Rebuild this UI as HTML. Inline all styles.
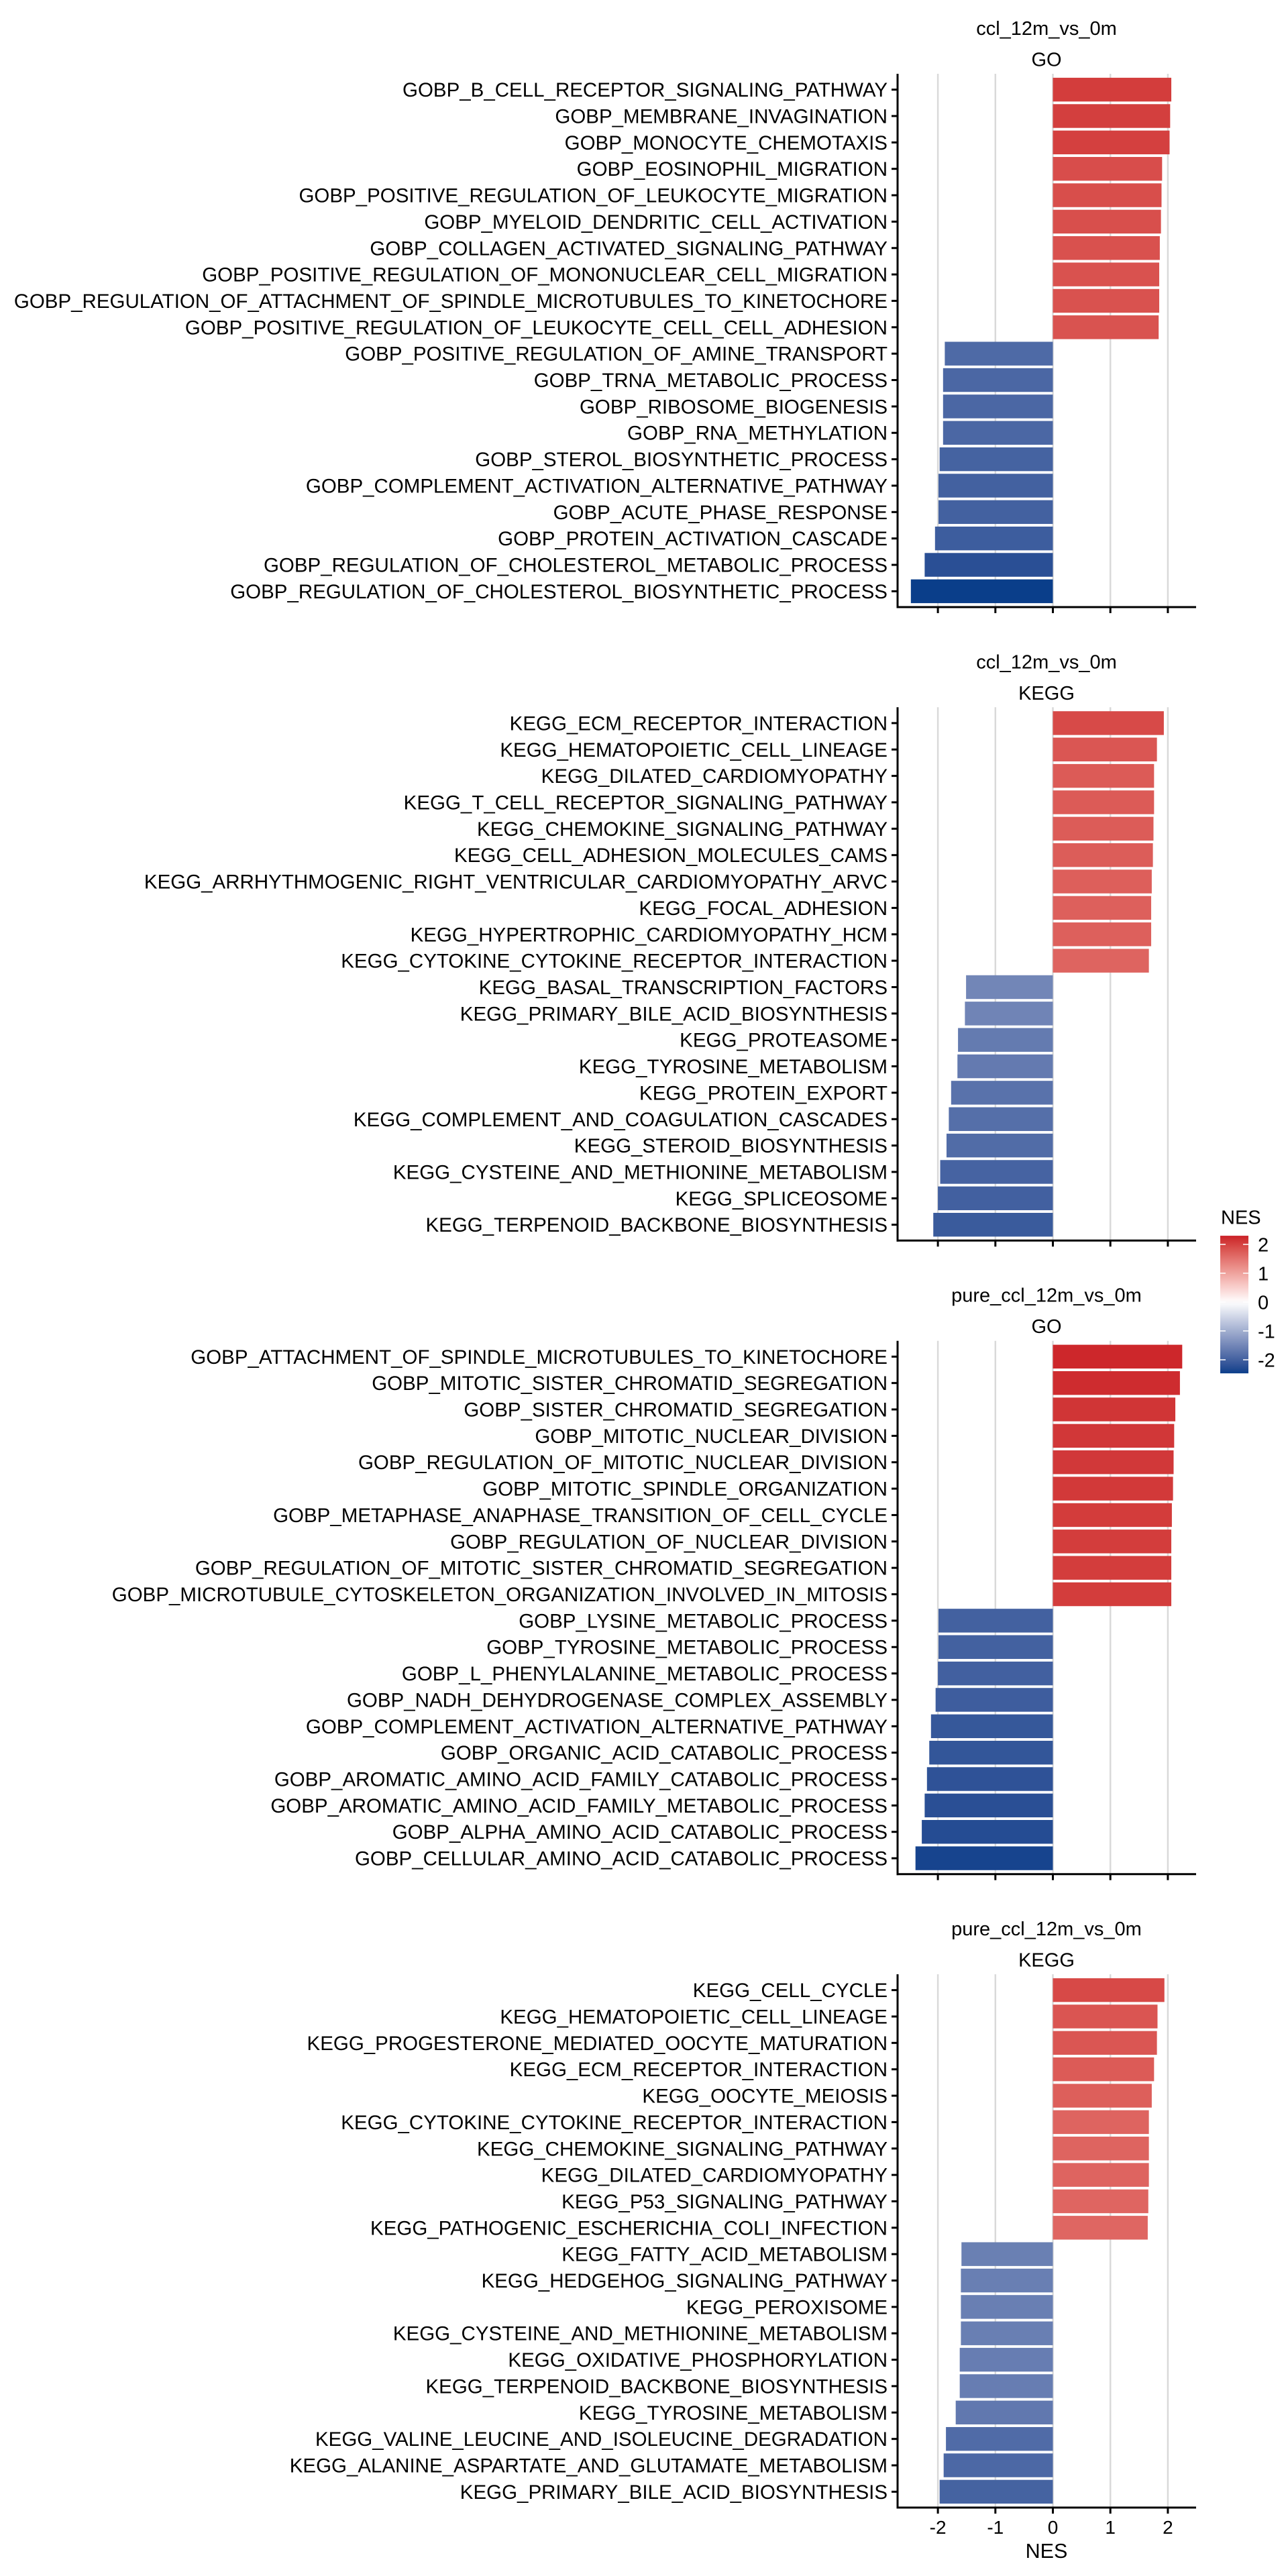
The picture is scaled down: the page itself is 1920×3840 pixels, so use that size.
<!DOCTYPE html>
<html><head><meta charset="utf-8"><style>
html,body{margin:0;padding:0;background:#fff;}
svg{display:block;font-family:"Liberation Sans",Arial,sans-serif;}
</style></head><body>
<svg id="chart" width="1920" height="3840" xmlns="http://www.w3.org/2000/svg"></svg>
<script>
const xTicks = [-2, -1, 0, 1, 2];
const legendTicks = [2, 1, 0, -1, -2];
const panelTitles = ["ccl_12m_vs_0m", "ccl_12m_vs_0m", "pure_ccl_12m_vs_0m", "pure_ccl_12m_vs_0m"];
const panelTypes = ["GO", "KEGG", "GO", "KEGG"];
const terms1 = ["GOBP_B_CELL_RECEPTOR_SIGNALING_PATHWAY","GOBP_MEMBRANE_INVAGINATION","GOBP_MONOCYTE_CHEMOTAXIS","GOBP_EOSINOPHIL_MIGRATION","GOBP_POSITIVE_REGULATION_OF_LEUKOCYTE_MIGRATION","GOBP_MYELOID_DENDRITIC_CELL_ACTIVATION","GOBP_COLLAGEN_ACTIVATED_SIGNALING_PATHWAY","GOBP_POSITIVE_REGULATION_OF_MONONUCLEAR_CELL_MIGRATION","GOBP_REGULATION_OF_ATTACHMENT_OF_SPINDLE_MICROTUBULES_TO_KINETOCHORE","GOBP_POSITIVE_REGULATION_OF_LEUKOCYTE_CELL_CELL_ADHESION","GOBP_POSITIVE_REGULATION_OF_AMINE_TRANSPORT","GOBP_TRNA_METABOLIC_PROCESS","GOBP_RIBOSOME_BIOGENESIS","GOBP_RNA_METHYLATION","GOBP_STEROL_BIOSYNTHETIC_PROCESS","GOBP_COMPLEMENT_ACTIVATION_ALTERNATIVE_PATHWAY","GOBP_ACUTE_PHASE_RESPONSE","GOBP_PROTEIN_ACTIVATION_CASCADE","GOBP_REGULATION_OF_CHOLESTEROL_METABOLIC_PROCESS","GOBP_REGULATION_OF_CHOLESTEROL_BIOSYNTHETIC_PROCESS"];
const nes1 = [2.06,2.04,2.03,1.90,1.89,1.88,1.86,1.85,1.85,1.84,-1.88,-1.91,-1.91,-1.91,-1.97,-1.99,-1.99,-2.05,-2.23,-2.47];
const terms2 = ["KEGG_ECM_RECEPTOR_INTERACTION","KEGG_HEMATOPOIETIC_CELL_LINEAGE","KEGG_DILATED_CARDIOMYOPATHY","KEGG_T_CELL_RECEPTOR_SIGNALING_PATHWAY","KEGG_CHEMOKINE_SIGNALING_PATHWAY","KEGG_CELL_ADHESION_MOLECULES_CAMS","KEGG_ARRHYTHMOGENIC_RIGHT_VENTRICULAR_CARDIOMYOPATHY_ARVC","KEGG_FOCAL_ADHESION","KEGG_HYPERTROPHIC_CARDIOMYOPATHY_HCM","KEGG_CYTOKINE_CYTOKINE_RECEPTOR_INTERACTION","KEGG_BASAL_TRANSCRIPTION_FACTORS","KEGG_PRIMARY_BILE_ACID_BIOSYNTHESIS","KEGG_PROTEASOME","KEGG_TYROSINE_METABOLISM","KEGG_PROTEIN_EXPORT","KEGG_COMPLEMENT_AND_COAGULATION_CASCADES","KEGG_STEROID_BIOSYNTHESIS","KEGG_CYSTEINE_AND_METHIONINE_METABOLISM","KEGG_SPLICEOSOME","KEGG_TERPENOID_BACKBONE_BIOSYNTHESIS"];
const nes2 = [1.93,1.81,1.76,1.76,1.75,1.74,1.72,1.71,1.71,1.67,-1.51,-1.53,-1.65,-1.66,-1.77,-1.81,-1.85,-1.96,-2.00,-2.08];
const terms3 = ["GOBP_ATTACHMENT_OF_SPINDLE_MICROTUBULES_TO_KINETOCHORE","GOBP_MITOTIC_SISTER_CHROMATID_SEGREGATION","GOBP_SISTER_CHROMATID_SEGREGATION","GOBP_MITOTIC_NUCLEAR_DIVISION","GOBP_REGULATION_OF_MITOTIC_NUCLEAR_DIVISION","GOBP_MITOTIC_SPINDLE_ORGANIZATION","GOBP_METAPHASE_ANAPHASE_TRANSITION_OF_CELL_CYCLE","GOBP_REGULATION_OF_NUCLEAR_DIVISION","GOBP_REGULATION_OF_MITOTIC_SISTER_CHROMATID_SEGREGATION","GOBP_MICROTUBULE_CYTOSKELETON_ORGANIZATION_INVOLVED_IN_MITOSIS","GOBP_LYSINE_METABOLIC_PROCESS","GOBP_TYROSINE_METABOLIC_PROCESS","GOBP_L_PHENYLALANINE_METABOLIC_PROCESS","GOBP_NADH_DEHYDROGENASE_COMPLEX_ASSEMBLY","GOBP_COMPLEMENT_ACTIVATION_ALTERNATIVE_PATHWAY","GOBP_ORGANIC_ACID_CATABOLIC_PROCESS","GOBP_AROMATIC_AMINO_ACID_FAMILY_CATABOLIC_PROCESS","GOBP_AROMATIC_AMINO_ACID_FAMILY_METABOLIC_PROCESS","GOBP_ALPHA_AMINO_ACID_CATABOLIC_PROCESS","GOBP_CELLULAR_AMINO_ACID_CATABOLIC_PROCESS"];
const nes3 = [2.25,2.21,2.13,2.11,2.10,2.09,2.07,2.06,2.06,2.06,-1.99,-1.99,-2.00,-2.04,-2.12,-2.15,-2.19,-2.23,-2.28,-2.39];
const terms4 = ["KEGG_CELL_CYCLE","KEGG_HEMATOPOIETIC_CELL_LINEAGE","KEGG_PROGESTERONE_MEDIATED_OOCYTE_MATURATION","KEGG_ECM_RECEPTOR_INTERACTION","KEGG_OOCYTE_MEIOSIS","KEGG_CYTOKINE_CYTOKINE_RECEPTOR_INTERACTION","KEGG_CHEMOKINE_SIGNALING_PATHWAY","KEGG_DILATED_CARDIOMYOPATHY","KEGG_P53_SIGNALING_PATHWAY","KEGG_PATHOGENIC_ESCHERICHIA_COLI_INFECTION","KEGG_FATTY_ACID_METABOLISM","KEGG_HEDGEHOG_SIGNALING_PATHWAY","KEGG_PEROXISOME","KEGG_CYSTEINE_AND_METHIONINE_METABOLISM","KEGG_OXIDATIVE_PHOSPHORYLATION","KEGG_TERPENOID_BACKBONE_BIOSYNTHESIS","KEGG_TYROSINE_METABOLISM","KEGG_VALINE_LEUCINE_AND_ISOLEUCINE_DEGRADATION","KEGG_ALANINE_ASPARTATE_AND_GLUTAMATE_METABOLISM","KEGG_PRIMARY_BILE_ACID_BIOSYNTHESIS"];
const nes4 = [1.94,1.82,1.81,1.76,1.72,1.67,1.67,1.67,1.66,1.65,-1.59,-1.60,-1.60,-1.60,-1.62,-1.62,-1.69,-1.86,-1.90,-1.97];

const NS = "http://www.w3.org/2000/svg";
const svg = document.getElementById('chart');
function mk(tag, attrs, parent){const e=document.createElementNS(NS,tag);for(const k in attrs)e.setAttribute(k,attrs[k]);(parent||svg).appendChild(e);return e;}

const X0 = 1569.5, UNIT = 85.7, AXL = 1338, AXR = 1783;
const xs = v => X0 + v*UNIT;
const NMAX = 2.3, NMIN = -2.47;
const HI = [203,32,39], LO = [10,62,138];

function s2l(c){c/=255;return c<=0.04045?c/12.92:Math.pow((c+0.055)/1.055,2.4);}
function l2s(c){c=c<=0.0031308?12.92*c:1.055*Math.pow(c,1/2.4)-0.055;return Math.max(0,Math.min(255,Math.round(c*255)));}
function toLab(rgb){
  const r=s2l(rgb[0]),g=s2l(rgb[1]),b=s2l(rgb[2]);
  let X=(0.4124*r+0.3576*g+0.1805*b)/0.95047,Y=0.2126*r+0.7152*g+0.0722*b,Z=(0.0193*r+0.1192*g+0.9505*b)/1.08883;
  const f=t=>t>0.008856?Math.cbrt(t):7.787*t+16/116;
  const fx=f(X),fy=f(Y),fz=f(Z);
  return [116*fy-16,500*(fx-fy),200*(fy-fz)];
}
function fromLab(l){
  const fy=(l[0]+16)/116,fx=fy+l[1]/500,fz=fy-l[2]/200;
  const fi=t=>t>0.206893?t*t*t:(t-16/116)/7.787;
  const X=fi(fx)*0.95047,Y=fi(fy),Z=fi(fz)*1.08883;
  const r=3.2406*X-1.5372*Y-0.4986*Z,g=-0.9689*X+1.8758*Y+0.0415*Z,b=0.0557*X-0.2040*Y+1.0570*Z;
  return [l2s(r),l2s(g),l2s(b)];
}
const WL = toLab([255,255,255]), HL = toLab(HI), LL = toLab(LO);
function col(v){
  let t, c, cr;
  if (v>=0){t=Math.min(v/NMAX,1);c=HL;cr=HI;} else {t=Math.min(v/NMIN,1);c=LL;cr=LO;}
  const lab=[WL[0]+(c[0]-WL[0])*t, WL[1]+(c[1]-WL[1])*t, WL[2]+(c[2]-WL[2])*t];
  const a=fromLab(lab);
  const b=[255+(cr[0]-255)*t, 255+(cr[1]-255)*t, 255+(cr[2]-255)*t];
  return `rgb(${Math.round((a[0]+b[0])/2)},${Math.round((a[1]+b[1])/2)},${Math.round((a[2]+b[2])/2)})`;
}
const panels = [[terms1,nes1],[terms2,nes2],[terms3,nes3],[terms4,nes4]];
const PH = 795, BAND = PH/20.2;
const tops = [110, 1054.3, 1998.7, 2943];

panels.forEach((p, pi) => {
  const terms = p[0], vals = p[1], top = tops[pi], bottom = top + PH;
  const g = mk('g', {});
  
  
  const t1 = mk('text', {x:1560, y:top-58, 'font-size':29, 'text-anchor':'middle', fill:'#000'}, g);
  t1.textContent = panelTitles[pi];
  
  
  const t2 = mk('text', {x:1560, y:top-11.5, 'font-size':29, 'text-anchor':'middle', fill:'#000'}, g);
  t2.textContent = panelTypes[pi];
  
  
  xTicks.forEach(v => {
    const gl = mk('line', {x1:xs(v), x2:xs(v), y1:top, y2:bottom, stroke:'#d9d9d9', 'stroke-width':2.5}, g);
    
    
  });
  terms.forEach((term, i) => {
    const yc = top + (0.6 + i)*BAND;
    const v = vals[i];
    const bh = BAND*0.9;
    const r = mk('rect', {x:Math.min(xs(0), xs(v)), y:yc-bh/2, width:Math.abs(xs(v)-xs(0)), height:bh, fill:col(v)}, g);
    
    
    const tk = mk('line', {x1:1329, x2:AXL, y1:yc, y2:yc, stroke:'#000', 'stroke-width':3}, g);
    
    
    const lb = mk('text', {x:1323, y:yc+10.5, 'font-size':29.5, 'text-anchor':'end', fill:'#000'}, g);
    lb.textContent = term;
    
    
  });
  const ya = mk('line', {x1:AXL, x2:AXL, y1:top, y2:bottom+1.5, stroke:'#000', 'stroke-width':3}, g);
  
  
  const xa = mk('line', {x1:AXL-1.5, x2:AXR, y1:bottom, y2:bottom, stroke:'#000', 'stroke-width':3}, g);
  
  
  xTicks.forEach(v => {
    const tk = mk('line', {x1:xs(v), x2:xs(v), y1:bottom, y2:bottom+9, stroke:'#000', 'stroke-width':3}, g);
    
    
    if (pi === 3) {
      const tl = mk('text', {x:xs(v), y:3777, 'font-size':28, 'text-anchor':'middle', fill:'#000'}, g);
      tl.textContent = String(v);
      
      
    }
  });
});
const xt = mk('text', {x:1560, y:3813, 'font-size':30.5, 'text-anchor':'middle', fill:'#000'});
xt.textContent = 'NES';



// legend
const LZ = 1941, LU = 43, LX = 1819, LW = 42;
const ly = v => LZ - v*LU;
const defs = mk('defs', {});
const grad = mk('linearGradient', {id:'lg', x1:0, y1:0, x2:0, y2:1}, defs);
for (let k=0;k<=30;k++){
  const v = NMAX + (NMIN-NMAX)*k/30;
  mk('stop', {offset:(k/30), 'stop-color':col(v)}, grad);
}
const lg = mk('g', {});


const lt = mk('text', {x:1820, y:1824.5, 'font-size':29, fill:'#000'}, lg);
lt.textContent = 'NES';


const cb = mk('rect', {x:LX, y:ly(NMAX), width:LW, height:ly(NMIN)-ly(NMAX), fill:'url(#lg)'}, lg);


legendTicks.forEach(v => {
  const a = mk('line', {x1:LX, x2:LX+8, y1:ly(v), y2:ly(v), stroke:'#fff', 'stroke-width':1.5}, lg);
  
  
  const b = mk('line', {x1:LX+LW-8, x2:LX+LW, y1:ly(v), y2:ly(v), stroke:'#fff', 'stroke-width':1.5}, lg);
  
  
  const t = mk('text', {x:1875, y:ly(v)+10.4, 'font-size':29, fill:'#000'}, lg);
  t.textContent = String(v);
  
  
});
</script>
</body></html>
